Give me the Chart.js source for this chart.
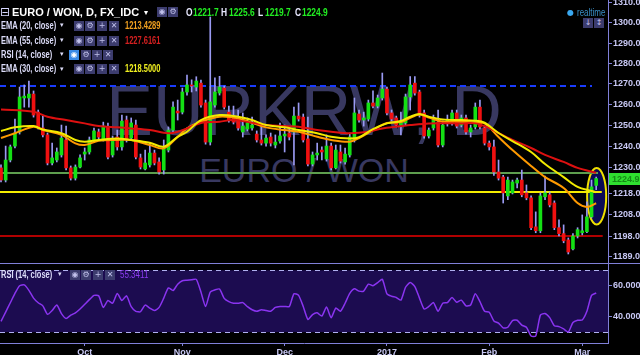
<!DOCTYPE html>
<html><head><meta charset="utf-8">
<script src="https://cdn.jsdelivr.net/npm/chart.js@4.4.1/dist/chart.umd.min.js"></script>
<style>
html,body{margin:0;padding:0;background:#000;}
#wrap{position:relative;width:640px;height:355px;overflow:hidden;background:#000;}
canvas{position:absolute;left:0;}
#c1{top:0;z-index:1}
#c2{top:263px;z-index:1}
.wm{position:absolute;left:0;width:608px;text-align:center;color:#383860;font-family:"Liberation Sans",Arial,sans-serif;white-space:nowrap;z-index:0;line-height:1}
.t{position:absolute;white-space:nowrap;z-index:2;font-family:"Liberation Sans",Arial,sans-serif;line-height:1;transform-origin:0 0}
.ic{position:absolute;width:10px;height:10px;background:#3c3c6e;color:#c0c0ea;font-size:8px;line-height:10px;text-align:center;z-index:2;font-family:"DejaVu Sans",sans-serif}
</style>
</head><body>
<div id="wrap">
  <div class="wm" id="wm1" style="top:75.7px;font-size:70px">EURKRW, D</div>
  <div class="wm" id="wm2" style="top:153.2px;font-size:34px">EURO / WON</div>
  <canvas id="c1" width="640" height="263"></canvas>
  <canvas id="c2" width="640" height="92"></canvas>
</div>
<script>
// ---------------- DATA ----------------
const open = [1229.9,1224.2,1233.6,1240.2,1246.9,1263.2,1263.2,1265.1,1256.4,1248.8,
1245.5,1232.2,1233.6,1236.0,1243.1,1229.9,1225.1,1230.3,1236.4,1237.4,
1243.1,1246.9,1243.6,1249.3,1236.0,1244.5,1239.8,1252.6,1244.0,1250.2,
1234.6,1229.4,1231.3,1236.9,1232.7,1228.9,1238.3,1247.8,1256.9,1256.4,
1266.1,1269.5,1268.5,1270.4,1260.8,1242.1,1259.8,1265.6,1268.0,1256.4,
1254.5,1253.6,1246.9,1248.3,1248.8,1245.9,1243.1,1241.6,1244.5,1240.7,
1242.6,1245.0,1246.4,1246.9,1254.5,1254.0,1243.6,1231.7,1236.0,1238.3,
1234.1,1240.2,1229.9,1237.4,1232.7,1236.0,1243.1,1255.5,1252.6,1253.1,
1260.8,1259.3,1263.2,1267.5,1256.0,1253.6,1250.2,1251.2,1263.7,1270.4,
1266.1,1256.0,1245.0,1248.8,1251.6,1240.7,1251.2,1251.2,1256.0,1250.2,
1253.6,1246.9,1249.3,1258.8,1248.8,1241.6,1239.8,1228.0,1225.6,1216.8,
1218.2,1222.8,1224.2,1218.2,1215.9,1202.5,1200.7,1216.4,1217.3,1213.5,
1202.1,1199.4,1196.5,1192.4,1198.3,1199.8,1200.3,1207.1,1221.7];
const high = [1231.3,1240.2,1240.7,1253.1,1268.5,1269.5,1271.4,1266.6,1257.4,1254.5,
1246.4,1241.6,1239.3,1250.2,1249.7,1230.8,1231.3,1236.0,1239.3,1244.5,
1248.8,1248.3,1251.6,1251.2,1245.0,1247.8,1255.0,1254.5,1253.6,1252.6,
1236.4,1238.3,1241.6,1238.3,1234.6,1243.1,1249.3,1261.3,1262.2,1268.0,
1274.3,1272.0,1273.5,1271.9,1262.2,1302.9,1273.0,1273.7,1269.0,1259.3,
1259.3,1257.4,1256.0,1253.6,1254.0,1247.4,1249.7,1245.5,1246.4,1245.5,
1251.2,1250.2,1248.3,1258.8,1260.8,1255.5,1254.0,1237.4,1241.6,1239.8,
1245.5,1241.6,1240.7,1240.7,1239.3,1246.4,1263.2,1257.4,1256.4,1262.2,
1266.6,1264.6,1275.3,1268.5,1257.4,1254.5,1256.4,1265.1,1273.6,1273.6,
1267.0,1257.4,1248.8,1255.0,1257.4,1252.1,1255.0,1257.4,1257.4,1255.0,
1255.0,1250.2,1260.8,1262.2,1249.7,1242.6,1243.1,1233.6,1226.4,1225.6,
1224.2,1225.1,1228.9,1221.9,1216.8,1209.4,1218.2,1226.0,1218.6,1214.5,
1205.7,1203.4,1197.4,1199.4,1202.1,1208.0,1214.0,1224.2,1225.6];
const low = [1223.3,1223.3,1232.7,1239.3,1245.9,1258.8,1258.8,1254.0,1248.3,1244.5,
1231.3,1231.3,1232.7,1235.0,1228.9,1224.2,1224.2,1229.9,1233.6,1236.4,
1242.1,1243.6,1242.6,1234.1,1235.0,1238.3,1238.3,1242.1,1243.1,1234.1,
1229.4,1228.9,1230.3,1231.3,1226.9,1227.0,1237.4,1246.9,1252.6,1255.5,
1264.6,1266.1,1266.6,1258.8,1241.1,1240.7,1258.8,1264.6,1257.9,1251.6,
1250.7,1247.8,1244.5,1247.4,1247.8,1242.1,1240.7,1240.2,1240.2,1239.3,
1241.6,1237.4,1243.1,1231.3,1252.1,1242.1,1230.8,1230.8,1233.6,1233.6,
1233.1,1228.9,1229.4,1232.2,1231.7,1235.0,1242.1,1251.6,1249.7,1252.1,
1258.4,1258.4,1262.2,1255.0,1252.1,1249.3,1245.5,1250.2,1257.4,1264.6,
1254.0,1244.0,1244.0,1247.8,1239.8,1239.8,1249.7,1250.2,1248.8,1249.3,
1245.9,1244.5,1248.3,1248.3,1240.7,1238.3,1226.4,1224.2,1213.5,1215.0,
1217.7,1220.5,1216.4,1215.0,1201.2,1199.8,1199.8,1215.0,1211.7,1201.2,
1198.3,1195.2,1190.1,1191.9,1197.4,1198.8,1199.8,1206.6,1219.7];
const close = [1224.2,1233.6,1239.8,1246.4,1263.7,1264.1,1265.1,1255.0,1249.3,1245.5,
1232.2,1234.6,1237.4,1244.0,1229.9,1225.1,1230.3,1234.6,1237.4,1243.1,
1247.4,1244.5,1249.7,1235.0,1243.6,1239.8,1252.1,1243.1,1251.2,1235.0,
1230.3,1232.2,1236.9,1232.2,1228.0,1239.3,1247.8,1258.8,1256.0,1266.1,
1269.5,1269.0,1271.4,1259.8,1242.1,1261.3,1266.1,1268.5,1258.8,1252.6,
1251.6,1248.8,1249.7,1251.2,1250.2,1243.1,1241.6,1244.0,1241.6,1242.1,
1245.0,1245.9,1244.5,1254.5,1253.1,1243.1,1231.7,1236.0,1236.9,1237.4,
1240.2,1229.9,1238.3,1233.1,1236.4,1244.5,1256.0,1252.6,1253.6,1260.8,
1259.3,1263.2,1267.5,1256.0,1253.1,1250.2,1251.6,1263.7,1269.5,1265.6,
1255.0,1245.0,1247.8,1252.6,1240.7,1250.2,1252.6,1256.0,1249.7,1253.6,
1246.9,1248.8,1258.8,1249.3,1241.6,1239.8,1228.0,1225.1,1218.2,1224.2,
1223.3,1224.2,1217.3,1215.9,1202.1,1200.7,1216.8,1218.2,1212.6,1202.1,
1199.4,1196.1,1191.0,1198.3,1201.2,1200.7,1207.1,1221.0,1224.9];

// EMA lines as [candle index, value]
const ema20 = [[0,1244.0],[3,1246.3],[7,1249.4],[9,1247.8],[13,1245.5],[16,1241.5],[18,1240.7],[21,1242.7],[25,1243.1],[28,1243.1],[32,1240.7],[35,1239.1],[38,1244.6],[40,1248.6],[43,1251.8],[47,1254.2],[51,1253.4],[54,1251.3],[57,1249.1],[61,1247.8],[64,1247.0],[68,1244.6],[71,1243.1],[75,1242.3],[77,1244.0],[80,1247.8],[83,1251.2],[86,1251.6],[88,1253.6],[90,1255.3],[92,1253.8],[95,1251.8],[99,1251.8],[102,1251.4],[104,1251.0],[107,1244.5],[110,1238.3],[114,1230.8],[117,1225.6],[121,1220.5],[124,1213.5],[126,1211.7],[128,1213.4]];
const ema30 = [[0,1247.4],[3,1249.1],[7,1249.7],[9,1248.1],[13,1246.3],[16,1243.1],[18,1242.3],[21,1243.1],[25,1243.8],[28,1243.1],[32,1241.8],[35,1239.9],[38,1244.6],[40,1247.0],[43,1252.6],[47,1255.0],[51,1254.2],[54,1252.6],[57,1250.2],[61,1249.1],[64,1247.8],[68,1246.3],[71,1244.6],[75,1243.8],[77,1244.4],[80,1248.3],[83,1251.0],[86,1252.1],[88,1254.2],[90,1255.5],[92,1254.2],[95,1252.9],[99,1252.6],[102,1252.3],[104,1251.3],[107,1246.4],[110,1242.6],[114,1237.4],[117,1231.7],[121,1225.6],[124,1221.0],[127,1219.1],[128,1218.5]];
const ema55 = [[0,1257.7],[7,1256.6],[10,1254.2],[14,1252.6],[18,1251.0],[21,1249.7],[25,1249.1],[28,1248.6],[32,1247.8],[36,1246.3],[38,1247.0],[40,1248.6],[43,1251.2],[47,1251.8],[50,1252.6],[57,1250.2],[64,1249.4],[68,1247.8],[71,1247.0],[75,1246.3],[79,1247.0],[82,1248.6],[88,1250.2],[92,1251.0],[99,1251.0],[102,1251.0],[105,1248.8],[107,1246.4],[110,1243.1],[114,1239.3],[117,1236.0],[121,1232.7],[124,1229.9],[128,1227.6]];

const rsi = [37,43,49,55,60,60.5,57,52,49,47,
41.5,44,47.5,42,38.8,41,42.5,45,48,51,
53.8,53.5,46,50.5,48.7,55,50.5,53.5,46.5,43.5,
43.2,47.5,45.6,44,46,52,58.6,56.9,61,63.2,
63.5,63.8,64.1,55.9,46.6,55.9,57.3,57.9,51.8,49.7,
48.7,48.7,49.1,46.5,44.5,43.5,44.5,44,43.5,46,
46.6,46.6,46.6,54.8,53.8,46.6,38.3,41.4,42.5,40.4,
46.2,39.4,45.6,43.5,48.7,55,58,56.5,56.5,61,
60,62,64.1,54.8,53.2,52.4,50.7,59,62.1,59.4,
52,45,46.6,49.1,43.5,48.7,49.1,52.4,49.3,50.7,
47,47.6,54.8,49.7,43.5,42.9,37.3,35.9,32.8,33.2,
37.5,37.7,34.6,33.2,27.6,27.6,41,42.1,39.4,34.2,
33.6,32.1,30.1,36.3,37.7,37.9,43.5,53.8,55.3];

const priceTicks = [1189,1198,1208,1218,1230,1240,1250,1260,1270,1280,1290,1300,1310];
const rsiTicks = [40,60];
const rsiBands = [70,30];
const monthTickIndex = [18,39,61,83,105,125];
const monthTickLabels = ['Oct','Nov','Dec','2017','Feb','Mar'];
const levels = [1269.0,1227.3,1218.5,1198.2];   // drawn horizontal lines
const lastPrice = 1224.9;
const legendValues = ['1213.4289','1227.6161','1218.5000'];
const rsiLast = '55.3411';
const ohlcLast = ['1221.7','1225.6','1219.7','1224.9'];

// ---------------- STYLE ----------------
const GREEN='#14e014', RED='#f01010', WICK='#9a9af2', AX='#8080d8', TXT='#c8c8f4';
const SANS='"Liberation Sans",Arial,sans-serif';
const X_MIN=-0.215, X_MAX=130.54;
const levelStyle = [
  {color:'#1a3cff', width:2, dash:[6,4], end:127.1},
  {color:'#5e9e4e', width:2, dash:[], end:128.4},
  {color:'#f4ec00', width:2, dash:[], end:129.2},
  {color:'#b00000', width:2, dash:[], end:129.4}
];
const ellipse = {cx:128.1, top:1229.9, bottom:1203.6, halfW:2.05};

const up = close.map((c,i)=>c>=open[i]);
const bodyData = open.map((o,i)=>({x:i,y:[o,close[i]]}));
const wickData = low.map((l,i)=>({x:i,y:[l,high[i]]}));
const toXY = a => a.map(p=>({x:p[0],y:p[1]}));

const mainPlugin = {
  id:'mainDecor',
  beforeDatasetsDraw(chart){
    const {ctx, chartArea:a, scales:{x,y}} = chart;
    ctx.save();
    ctx.beginPath(); ctx.rect(a.left,a.top,a.right-a.left,a.bottom-a.top); ctx.clip();
    const ex = x.getPixelForValue(ellipse.cx);
    const et = y.getPixelForValue(ellipse.top), eb = y.getPixelForValue(ellipse.bottom);
    const rx = x.getPixelForValue(ellipse.cx+ellipse.halfW)-ex;
    ctx.beginPath();
    ctx.ellipse(ex,(et+eb)/2,rx,(eb-et)/2,0,0,Math.PI*2);
    ctx.fillStyle='#0a0a55'; ctx.fill();
    ctx.lineWidth=2; ctx.strokeStyle='#f0e000'; ctx.stroke();
    levels.forEach((v,i)=>{
      const s = levelStyle[i];
      const py = Math.round(y.getPixelForValue(v));
      ctx.beginPath();
      ctx.setLineDash(s.dash);
      ctx.lineWidth=s.width; ctx.strokeStyle=s.color;
      ctx.moveTo(a.left,py); ctx.lineTo(x.getPixelForValue(s.end),py);
      ctx.stroke();
    });
    ctx.setLineDash([]);
    ctx.restore();
  },
  afterDraw(chart){
    const {ctx, chartArea:a, scales:{y}} = chart;
    const py = y.getPixelForValue(lastPrice);
    ctx.save();
    ctx.fillStyle='#2fe02f';
    ctx.fillRect(a.right+1, Math.round(py-6), 640-a.right-1, 12);
    ctx.fillStyle='#158a15';
    ctx.font='bold 9px '+SANS;
    ctx.textBaseline='middle';
    ctx.fillText(lastPrice.toFixed(1), a.right+4, py+0.5);
    ctx.restore();
  }
};

new Chart(document.getElementById('c1'), {
  type:'bar',
  data:{datasets:[
    {type:'line', data:toXY(ema30), borderColor:'#f2ea00', borderWidth:2, pointRadius:0, tension:0.35},
    {type:'line', data:toXY(ema55), borderColor:'#dd1010', borderWidth:2, pointRadius:0, tension:0.35},
    {type:'line', data:toXY(ema20), borderColor:'#ff9a00', borderWidth:2, pointRadius:0, tension:0.35},
    {type:'bar', data:bodyData, backgroundColor:up.map(u=>u?GREEN:RED), barThickness:3, minBarLength:1, grouped:false},
    {type:'bar', data:wickData, backgroundColor:WICK, barThickness:1, grouped:false}
  ]},
  options:{
    responsive:false, animation:false, events:[],
    layout:{padding:0},
    plugins:{legend:{display:false}, tooltip:{enabled:false}},
    scales:{
      x:{type:'linear', min:X_MIN, max:X_MAX, offset:false, display:false},
      y:{type:'logarithmic', position:'right', min:1186.0, max:1311.4,
        afterBuildTicks:s=>{s.ticks=priceTicks.map(v=>({value:v}));},
        afterFit:s=>{s.width=32; s.paddingTop=0; s.paddingBottom=0;},
        ticks:{color:TXT, font:{family:SANS, size:9, weight:'bold'}, padding:1, autoSkip:false, callback:v=>Number(v).toFixed(1)},
        grid:{display:true, drawOnChartArea:false, drawTicks:true, tickLength:4, color:AX},
        border:{display:true, color:AX, width:1}
      }
    }
  },
  plugins:[mainPlugin]
});

const rsiPlugin = {
  id:'rsiDecor',
  beforeDatasetsDraw(chart){
    const {ctx, chartArea:a, scales:{y}} = chart;
    const yt = y.getPixelForValue(rsiBands[0]), yb = y.getPixelForValue(rsiBands[1]);
    ctx.save();
    ctx.fillStyle='#1c0c50';
    ctx.fillRect(a.left, yt, a.right-a.left, yb-yt);
    ctx.strokeStyle='#b0b0f0'; ctx.lineWidth=1; ctx.setLineDash([5,4]);
    [yt,yb].forEach(p=>{ctx.beginPath(); ctx.moveTo(a.left,Math.round(p)+0.5); ctx.lineTo(a.right,Math.round(p)+0.5); ctx.stroke();});
    ctx.restore();
  },
  afterDraw(chart){
    const {ctx} = chart;
    ctx.save();
    ctx.strokeStyle=AX; ctx.lineWidth=1;
    ctx.beginPath(); ctx.moveTo(0,0.5); ctx.lineTo(640,0.5); ctx.stroke();
    ctx.restore();
  }
};

new Chart(document.getElementById('c2'), {
  type:'line',
  data:{datasets:[
    {data:rsi.map((v,i)=>({x:i,y:v})), borderColor:'#8a34f0', borderWidth:1.5, pointRadius:0, tension:0.2}
  ]},
  options:{
    responsive:false, animation:false, events:[],
    layout:{padding:0},
    plugins:{legend:{display:false}, tooltip:{enabled:false}},
    scales:{
      x:{type:'linear', min:X_MIN, max:X_MAX, offset:false,
        afterBuildTicks:s=>{s.ticks=monthTickIndex.map(v=>({value:v}));},
        afterFit:s=>{s.height=12; s.paddingLeft=0; s.paddingRight=0;},
        ticks:{color:TXT, font:{family:SANS, size:9, weight:'bold'}, padding:1, autoSkip:false, maxRotation:0, callback:(v,i)=>monthTickLabels[i]},
        grid:{display:true, drawOnChartArea:false, drawTicks:true, tickLength:3, color:AX},
        border:{display:true, color:AX, width:1}
      },
      y:{type:'linear', position:'right', min:23.04, max:74.65,
        afterBuildTicks:s=>{s.ticks=rsiTicks.map(v=>({value:v}));},
        afterFit:s=>{s.width=32; s.paddingTop=0; s.paddingBottom=0;},
        ticks:{color:TXT, font:{family:SANS, size:9, weight:'bold'}, padding:1, autoSkip:false, callback:v=>Number(v).toFixed(4)},
        grid:{display:true, drawOnChartArea:false, drawTicks:true, tickLength:4, color:AX},
        border:{display:true, color:AX, width:1}
      }
    }
  },
  plugins:[rsiPlugin]
});

// ---------------- HTML TEXT OVERLAY ----------------
const wrap = document.getElementById('wrap');
function addText(txt,x,base,size,color,weight,sx,fam){
  const el=document.createElement('div');
  el.className='t'; el.textContent=txt;
  el.style.left=x+'px'; el.style.top=(base-size*0.8465)+'px';
  el.style.fontSize=size+'px'; el.style.color=color;
  el.style.fontWeight=weight||'normal';
  if(sx && sx!==1) el.style.transform='scaleX('+sx+')';
  if(fam) el.style.fontFamily=fam;
  wrap.appendChild(el);
}
function addIcon(x,y,glyph,bg){
  const el=document.createElement('div');
  el.className='ic'; el.textContent=glyph;
  el.style.left=x+'px'; el.style.top=y+'px';
  if(bg){el.style.background=bg; el.style.color='#ffffff';}
  wrap.appendChild(el);
}
const DJ='"DejaVu Sans",sans-serif';
addText('⊟',0,16.5,12,'#d8d8ff','normal',1,DJ);
addText('EURO / WON, D, FX_IDC',12,16.6,11,'#ffffff','bold',1);
addText('▾',144,15.5,8,'#ffffff','normal',1,DJ);
addIcon(157,7,'◉'); addIcon(168,7,'⚙');
const ohlcX=[[186,193],[221,229],[258,265],[295,302]], ohlcL=['O','H','L','C'];
ohlcL.forEach((l,i)=>{
  addText(l,ohlcX[i][0],16,10.5,'#e8e8ff','bold',0.8);
  addText(ohlcLast[i],ohlcX[i][1],16,10.5,'#22ee22','bold',0.8);
});
const legRows=[['EMA (20, close)',29.3,'#f0a020',0],['EMA (55, close)',44,'#d42020',1],['RSI (14, close)',58.3,null,-1],['EMA (30, close)',72.7,'#f0f020',2]];
legRows.forEach(r=>{
  addText(r[0],1,r[1],10,'#dcdcf8','bold',0.75);
  addText('▾',60,r[1]-1,7,'#dcdcf8','normal',1,DJ);
  const top=r[1]-8.5;
  if(r[3]>=0){
    addIcon(74,top,'◉'); addIcon(85,top,'⚙'); addIcon(97,top,'+'); addIcon(109,top,'✕');
    addText(legendValues[r[3]],125,r[1],10,r[2],'bold',0.75);
  } else {
    addIcon(69,top,'◉','#3a8ae6'); addIcon(81,top,'⚙'); addIcon(92,top,'+'); addIcon(103,top,'✕');
  }
});
addText('●',567,15.5,8,'#3aa8f0','normal',1,DJ);
addText('realtime',577,16,10,'#3a90c8','normal',0.8);
addIcon(583,18,'↓'); addIcon(594,18,'↕');
// RSI pane legend
addText('RSI (14, close)',1,278,10,'#dcdcf8','bold',0.75);
addText('▾',58,277,7,'#dcdcf8','normal',1,DJ);
addIcon(70,269.5,'◉'); addIcon(81,269.5,'⚙'); addIcon(93,269.5,'+'); addIcon(105,269.5,'✕');
addText(rsiLast,120,278,10,'#8c3cf0','normal',0.8);
</script>
</body></html>
